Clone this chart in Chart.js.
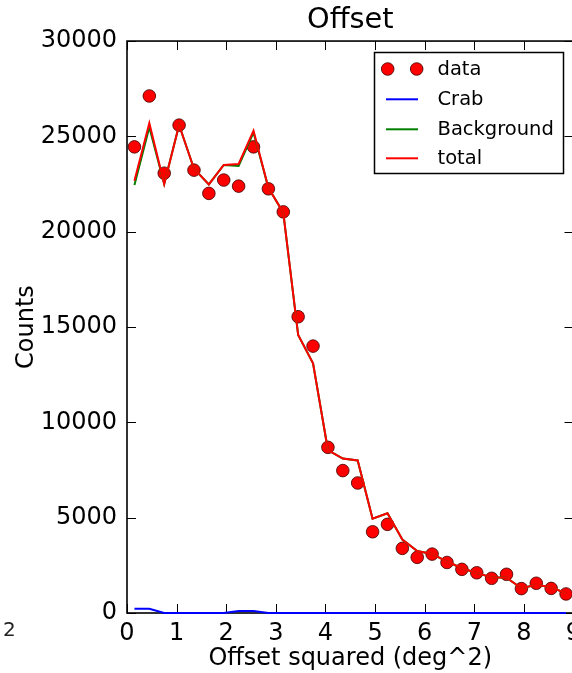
<!DOCTYPE html>
<html><head><meta charset="utf-8">
<script src="https://cdn.jsdelivr.net/npm/chart.js@4"></script>
<style>
html,body{margin:0;padding:0;overflow:hidden;background:#fff;width:572px;height:673px}
#wrap{position:absolute;left:0;top:0;width:600px;height:673px}
</style>
</head><body><div id="wrap"><canvas id="c" width="600" height="673"></canvas></div>
<script>
const offsetSq = [0.15,0.45,0.75,1.05,1.35,1.65,1.95,2.25,2.55,2.85,3.15,3.45,3.75,4.05,4.35,4.65,4.95,5.25,5.55,5.85,6.15,6.45,6.75,7.05,7.35,7.65,7.95,8.25,8.55,8.85];
const dataCounts = [24450,27120,23070,25590,23230,22010,22710,22390,24450,22250,21040,15540,14000,8690,7470,6820,4260,4650,3390,2920,3090,2650,2290,2110,1820,2030,1280,1560,1290,1000];
const crabCounts = [220,220,0,0,0,0,0,100,100,0,0,0,0,0,0,0,0,0,0,0,0,0,0,0,0,0,0,0,0,0];
const backgroundCounts = [22450,25480,22500,25600,23300,22480,23500,23450,25200,22300,21000,14580,13100,8550,8100,8000,4950,5230,3850,3250,3100,2700,2350,2100,1870,1850,1300,1480,1350,1030];
const totalCounts = [22670,25700,22500,25600,23300,22480,23500,23550,25300,22300,21000,14580,13100,8550,8100,8000,4950,5230,3850,3250,3100,2700,2350,2100,1870,1850,1300,1480,1350,1030];
const xTickValues = [0,1,2,3,4,5,6,7,8,9];
const yTickValues = [0,5000,10000,15000,20000,25000,30000];
const legendLabels = ['data','Crab','Background','total'];

const FONT = 'DejaVu Sans';
const pts = arr => offsetSq.map((x,i)=>({x:x,y:arr[i]}));

const framePlugin = {
  id:'frame',
  beforeDatasetsDraw(chart){
    const {ctx, chartArea:a, scales} = chart;
    ctx.save();
    ctx.strokeStyle='#000';
    ctx.lineWidth=1;
    const tl=9;
    ctx.beginPath();
    xTickValues.forEach(v=>{
      const px = Math.round(scales.x.getPixelForValue(v))+0.5;
      ctx.moveTo(px,a.bottom); ctx.lineTo(px,a.bottom-tl);
      ctx.moveTo(px,a.top); ctx.lineTo(px,a.top+tl);
    });
    yTickValues.forEach(v=>{
      const py = Math.round(scales.y.getPixelForValue(v))+0.5;
      ctx.moveTo(a.left,py); ctx.lineTo(a.left+tl,py);
      ctx.moveTo(a.right,py); ctx.lineTo(a.right-tl,py);
    });
    ctx.stroke();
    ctx.lineWidth=1.6;
    ctx.strokeRect(a.left,a.top,a.right-a.left,a.bottom-a.top);
    ctx.restore();
  },
  afterDraw(chart){
    const ctx=chart.ctx;
    ctx.save();
    const bx=374.5, by=52.5, bw=189, bh=121;
    ctx.fillStyle='#fff';
    ctx.fillRect(bx,by,bw,bh);
    ctx.strokeStyle='#000'; ctx.lineWidth=1.5;
    ctx.strokeRect(bx,by,bw,bh);
    const rows=[69,99.3,129.3,158.3];
    const colors=['#ff0000','#0000ff','#008000','#ff0000'];
    ctx.font='19.5px "'+FONT+'"';
    ctx.textBaseline='middle'; ctx.textAlign='left';
    legendLabels.forEach((lab,i)=>{
      const y=rows[i];
      if(i===0){
        [387.7,416.7].forEach(cx=>{
          ctx.beginPath(); ctx.arc(cx,y,6.3,0,Math.PI*2);
          ctx.fillStyle='#ff0000'; ctx.fill();
          ctx.strokeStyle='rgba(60,0,0,0.8)'; ctx.lineWidth=1; ctx.stroke();
        });
      } else {
        ctx.beginPath(); ctx.moveTo(386,y); ctx.lineTo(418,y);
        ctx.strokeStyle=colors[i]; ctx.lineWidth=2; ctx.stroke();
      }
      ctx.fillStyle='#000';
      ctx.fillText(lab,437.5,y+1);
    });
    ctx.font='20px "'+FONT+'"';
    ctx.fillStyle='#222';
    ctx.fillText('2',3,631);
    ctx.restore();
  }
};

new Chart(document.getElementById('c'),{
  type:'scatter',
  data:{datasets:[
    {label:'data',data:pts(dataCounts),showLine:false,pointRadius:6.3,pointHoverRadius:6.3,
     pointBackgroundColor:'#ff0000',pointBorderColor:'rgba(60,0,0,0.8)',pointBorderWidth:1,order:3},
    {label:'Crab',data:pts(crabCounts),showLine:true,borderColor:'#0000ff',borderWidth:2,pointRadius:0,order:2,clip:4},
    {label:'Background',data:pts(backgroundCounts),showLine:true,borderColor:'#008000',borderWidth:2,pointRadius:0,order:1},
    {label:'total',data:pts(totalCounts),showLine:true,borderColor:'#ff0000',borderWidth:2,pointRadius:0,order:0}
  ]},
  options:{
    responsive:false, animation:false, devicePixelRatio:1,
    layout:{padding:{left:0,right:26.5,top:0,bottom:0}},
    plugins:{
      legend:{display:false}, tooltip:{enabled:false},
      title:{display:true,text:'Offset',fullSize:false,color:'#000',
        font:{family:FONT,size:28.8,weight:'normal',lineHeight:1.2},padding:{top:3,bottom:3.5}}
    },
    scales:{
      x:{type:'linear',min:0,max:9,
        afterFit(s){s.height=60;},
        afterBuildTicks(s){s.ticks=xTickValues.map(v=>({value:v}));},
        grid:{display:false,drawTicks:false},border:{display:false},
        ticks:{color:'#000',font:{family:FONT,size:24},padding:6,maxRotation:0,autoSkip:false,callback:v=>String(v)},
        title:{display:true,text:'Offset squared (deg^2)',color:'#000',font:{family:FONT,size:24},padding:{top:0,bottom:0}}
      },
      y:{type:'linear',min:0,max:30000,
        afterFit(s){s.width=127;},
        afterBuildTicks(s){s.ticks=yTickValues.map(v=>({value:v}));},
        grid:{display:false,drawTicks:false},border:{display:false},
        ticks:{color:'#000',font:{family:FONT,size:24},padding:10,autoSkip:false,callback:v=>String(v)},
        title:{display:true,text:'Counts',color:'#000',font:{family:FONT,size:24},padding:{top:12,bottom:0}}
      }
    }
  },
  plugins:[framePlugin]
});
</script>
</body></html>
